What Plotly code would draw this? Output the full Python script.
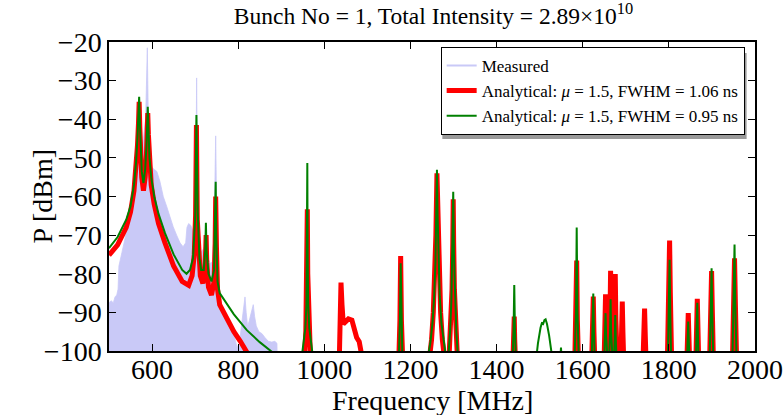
import plotly.graph_objects as go

# ---------------- data ----------------
MEAS_F = [500, 505, 510, 514, 518, 521, 523, 526, 530, 535, 540, 545, 550, 555, 560, 565, 570, 575, 580, 585, 588, 589, 590, 592, 595,
          600, 605, 611, 618, 626, 634, 642, 649, 657, 665, 672, 678, 681, 685, 690, 695, 699, 701.5, 703.5, 705.5, 708, 712, 716,
          720, 724, 725, 726.5, 730, 735, 740, 744, 746, 747.7, 749.5, 752, 757.7, 765, 772, 781, 790, 797, 803, 808, 812, 815.8,
          818.5, 822, 826, 830, 835, 838, 842, 848, 855, 862, 870, 878, 885, 890, 891]
MEAS_DB = [-87.5, -87, -87.5, -86, -85.5, -84, -78, -76, -74.5, -72, -69.5, -67, -64, -61.5, -58, -55, -50, -47, -45, -40, -30, -21.5, -30, -45, -50,
           -52.5, -53, -53.5, -56, -60, -62.6, -65.5, -67.8, -70, -72, -73, -72, -68, -67, -67.5, -69, -72, -60, -29.3, -62, -72, -74.5, -74,
           -73.5, -72, -69.5, -73, -76, -77.3, -77, -70, -58, -44.3, -60, -78, -87, -89.5, -91.5, -92.8, -95.5, -99, -98, -93, -90, -86,
           -90, -93.7, -92, -90, -88, -91, -93.5, -95, -95.5, -96.5, -97.5, -97.7, -97.5, -98, -106]
MEAS_FLOOR_F = [500, 891]
MEAS_FLOOR_DB = [-110, -110]

RED_POINTS = [
    (500, -75.2), (520, -72.5), (540, -68), (550, -64), (558, -58.5), (563, -53), (566, -47), (568.5, -41), (570, -35.5),
    (571.5, -42), (573.5, -50), (576, -55), (580, -58.5), (584, -55), (587, -49), (589, -43), (590, -38.4), (591.5, -44),
    (594, -52), (598, -57), (605, -62), (615, -67), (630, -72), (650, -78), (670, -82), (685, -83), (693, -80.5), (698, -75),
    (701, -65), (703, -41.5), (705, -66), (708, -76), (712, -80.5), (718, -82.5), (722, -80), (724.5, -74), (725.5, -70),
    (727, -77), (731, -83.5), (738, -85.5), (744, -82), (746.5, -72), (747.7, -60), (749.5, -73), (752, -84), (757, -88),
    (775, -92), (790, -95), (805, -97.5), (820, -100.3), (826, -106),
    (952, -106), (957, -95), (959.5, -80), (960.5, -63.3), (961.5, -80), (964, -95), (969, -106),
    (1034, -106), (1037, -92), (1038.7, -82.3), (1041, -88), (1044, -93), (1049.5, -92.4), (1056, -91.7), (1064, -92),
    (1069, -94.5), (1075, -96.5), (1081, -97.6), (1085, -100), (1089, -106),
    (1172, -106), (1175.5, -92), (1177.2, -75.4), (1179, -92), (1183, -106),
    (1243, -103), (1249, -97), (1253, -90), (1256.5, -81), (1259, -70), (1261.5, -54), (1264, -70), (1266.5, -81),
    (1270, -90), (1274, -97), (1280, -103),
    (1289, -103), (1293.5, -94), (1296.5, -84), (1298.3, -72), (1299.3, -60.7), (1300.3, -72), (1302, -84), (1305, -94), (1309.5, -103),
    (1437, -106), (1440, -97), (1441, -91.1), (1442, -97), (1445, -106),
    (1581, -106), (1584.5, -92), (1586, -76.6), (1587.5, -92), (1591, -106),
    (1620, -106), (1623, -95), (1624.5, -85.9), (1626, -95), (1629, -106),
    (1649, -106), (1651.5, -94), (1653, -85.3), (1654.5, -94), (1659, -106),
    (1663.2, -92), (1664.7, -79.2), (1666.2, -92), (1670, -106),
    (1674, -92), (1675.5, -80.1), (1677, -92), (1681, -106),
    (1688, -106), (1690.3, -95), (1691.8, -87.2), (1693.3, -95), (1696, -106),
    (1739, -106), (1742, -96), (1743.6, -89), (1745.2, -96), (1748, -106),
    (1796, -106), (1800, -85), (1801.7, -71.4), (1803.4, -85), (1807, -106),
    (1841, -106), (1843.5, -96), (1845, -90.2), (1846.5, -96), (1849, -106),
    (1862, -106), (1864.5, -94), (1866, -86.5), (1867.5, -94), (1870, -106),
    (1894, -106), (1897.5, -90), (1899.2, -79.3), (1901, -90), (1904, -106),
    (1947, -106), (1950.5, -88), (1952.5, -76), (1954.5, -88), (1958, -106),
]

GREEN_POINTS = [
    (500, -73.4), (520, -70.5), (540, -66), (550, -62.5), (558, -57), (563, -51), (566, -45), (568.5, -38), (570, -34.2),
    (571.5, -40), (573.5, -48), (576, -53.5), (580, -56.5), (584, -53), (587, -47), (589, -41), (590, -36.8), (591.5, -42),
    (594, -50), (598, -55), (605, -60), (615, -64.5), (630, -69.5), (650, -75), (670, -79), (680, -80), (688, -79),
    (695, -76), (700, -66), (703, -38.9), (706, -64), (710, -76), (714, -79), (720, -79), (723.5, -74), (725, -66.8),
    (726.5, -74), (731, -80), (738, -82), (744, -79), (746.5, -68), (747.7, -56.2), (749, -70), (752, -82), (757, -85),
    (790, -90.5), (820, -94.6), (850, -97.7), (878, -100.2), (885, -106),
    (947, -102), (952, -98), (956, -94), (958.5, -88), (959.8, -75), (960.5, -51.3), (961.2, -75), (962.5, -88),
    (965, -94), (969, -98), (974, -102),
    (1172, -106), (1175.5, -92), (1177.2, -77.3), (1178.9, -92), (1182, -106),
    (1240, -102), (1246, -98), (1251, -93), (1255, -86), (1258, -77), (1260, -65), (1261.5, -53.1), (1263, -65),
    (1265, -77), (1268, -86), (1272, -93), (1277, -98), (1283, -102),
    (1287, -103), (1292, -95), (1295, -87), (1297.5, -75), (1299.3, -58.8), (1301, -75), (1303.5, -87), (1306.5, -95), (1311, -103),
    (1436, -106), (1439.5, -94), (1441, -82.9), (1442.5, -94), (1446, -106),
    (1490, -104), (1496, -98), (1502, -94), (1505, -92.8), (1508, -93), (1511, -92), (1513.8, -91.8), (1517, -93),
    (1522, -96), (1527, -99.5), (1532, -104),
    (1547, -104), (1549.5, -99.1), (1552, -104),
    (1580, -106), (1584.3, -90), (1586, -68), (1587.7, -90), (1592, -106),
    (1620, -106), (1623, -95), (1624.5, -85.1), (1626, -95), (1629, -106),
    (1649, -106), (1651.8, -96), (1653, -90.2), (1654.2, -96), (1659, -106),
    (1660, -106), (1663.4, -95), (1664.7, -86.6), (1666, -95), (1670, -106),
    (1671, -106), (1674.3, -97), (1675.5, -90.7), (1676.7, -97), (1680, -106),
    (1797, -106), (1800.2, -90), (1801.7, -76.4), (1803.2, -90), (1806, -106),
    (1841, -106), (1843.8, -97), (1845, -92.4), (1846.2, -97), (1849, -106),
    (1862, -106), (1864.7, -95), (1866, -87.5), (1867.3, -95), (1870, -106),
    (1894, -106), (1897.7, -90), (1899.2, -78.6), (1900.7, -90), (1904, -106),
    (1947, -106), (1950.8, -88), (1952.5, -72.4), (1954.2, -88), (1958, -106),
]

RED_F = [p[0] for p in RED_POINTS]
RED_DB = [p[1] for p in RED_POINTS]
GREEN_F = [p[0] for p in GREEN_POINTS]
GREEN_DB = [p[1] for p in GREEN_POINTS]

X_TICKS = [600, 800, 1000, 1200, 1400, 1600, 1800, 2000]
Y_TICKS = [-100, -90, -80, -70, -60, -50, -40, -30, -20]

LAVENDER = "#c9c9f7"
FONT = "Liberation Serif"

fig = go.Figure()
fig.add_trace(go.Scatter(x=MEAS_FLOOR_F, y=MEAS_FLOOR_DB, mode="lines", line=dict(width=0, color=LAVENDER),
                         showlegend=False, hoverinfo="skip"))
fig.add_trace(go.Scatter(x=MEAS_F, y=MEAS_DB, mode="lines", fill="tonexty", fillcolor=LAVENDER,
                         line=dict(width=0.8, color=LAVENDER), showlegend=False))
fig.add_trace(go.Scatter(x=[None], y=[None], mode="lines", line=dict(width=2, color=LAVENDER), name="Measured"))
fig.add_trace(go.Scatter(x=RED_F, y=RED_DB, mode="lines", line=dict(width=5, color="#ff0000"),
                         name="Analytical: <i>μ</i> = 1.5, FWHM = 1.06 ns"))
fig.add_trace(go.Scatter(x=GREEN_F, y=GREEN_DB, mode="lines", line=dict(width=2, color="#008000"),
                         name="Analytical: <i>μ</i> = 1.5, FWHM = 0.95 ns"))

axis_common = dict(showline=True, linecolor="black", linewidth=1.5, mirror="ticks", ticks="inside",
                   ticklen=7, tickwidth=1, tickcolor="black", showgrid=False, zeroline=False,
                   automargin=False, tickfont=dict(family=FONT, size=28, color="black"))
fig.update_xaxes(range=[500, 2000], tickvals=X_TICKS, ticktext=[str(v) for v in X_TICKS],
                 ticklabelstandoff=-7, **axis_common)
fig.update_yaxes(range=[-100, -20], tickvals=Y_TICKS, **axis_common)

fig.update_layout(
    width=784, height=415,
    margin=dict(l=109, r=29, t=42, b=64),
    paper_bgcolor="white", plot_bgcolor="white",
    title=dict(text="Bunch No = 1, Total Intensity = 2.89×10<sup>10</sup>", x=0.553, xanchor="center",
               y=0.962, yanchor="middle", font=dict(family=FONT, size=23.5, color="black"), automargin=False),
    legend=dict(x=0.984, xanchor="right", y=0.984, yanchor="top", bgcolor="white", bordercolor="black",
                borderwidth=1, font=dict(family=FONT, size=17, color="black"), itemwidth=30,
                tracegroupgap=0, traceorder="normal"),
    showlegend=True,
    annotations=[
        dict(text="Frequency [MHz]", xref="paper", yref="paper", x=0.5, y=-0.1586, xanchor="center",
             yanchor="middle", showarrow=False, font=dict(family=FONT, size=28, color="black")),
        dict(text="P [dBm]", xref="paper", yref="paper", x=-0.1037, y=0.5, xanchor="center",
             yanchor="middle", textangle=-90, showarrow=False, font=dict(family=FONT, size=28, color="black")),
    ],
    shapes=[dict(type="rect", xref="paper", yref="paper", x0=0.516, x1=0.987, y0=0.686, y1=0.964,
                 fillcolor="#9a9a9a", line=dict(width=0), layer="above")],
)

fig.write_html("out.html", config={"displayModeBar": False},
               post_script="document.body.style.margin='0';")
